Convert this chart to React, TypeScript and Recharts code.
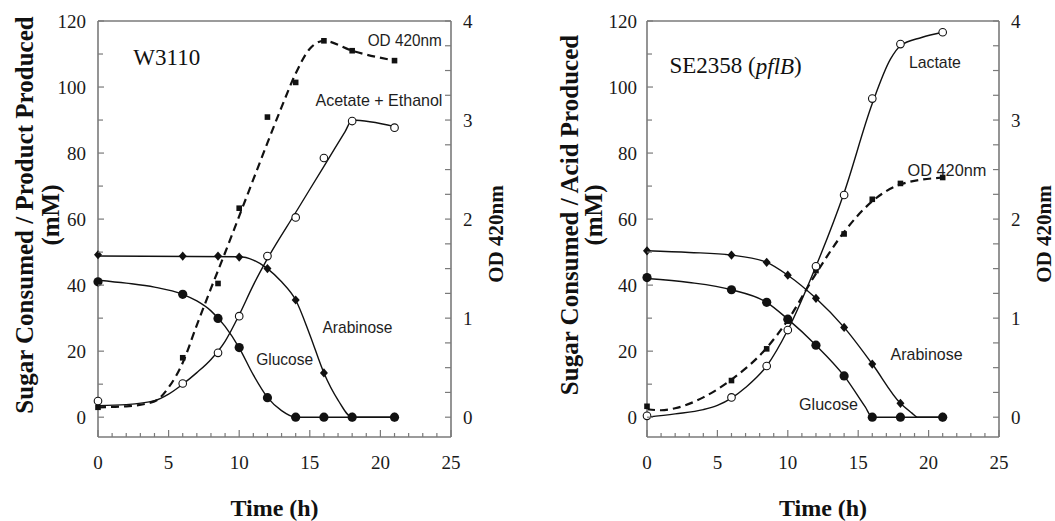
import React from 'react';
import { LineChart, Line, XAxis, YAxis, ReferenceLine, ReferenceDot } from 'recharts';

const SERIF = '"Liberation Serif", "Times New Roman", Times, serif';
const SANS = '"Liberation Sans", Arial, Helvetica, sans-serif';
const INK = '#111';
const FRAME = '#7a7a7a';

// axis ticks
const timeTicks = [0, 1, 2, 3, 4, 5, 6, 7, 8, 9, 10, 11, 12, 13, 14, 15, 16, 17, 18, 19, 20, 21, 22, 23, 24, 25];
const concTicks = [0, 10, 20, 30, 40, 50, 60, 70, 80, 90, 100, 110, 120];
const odTicks = [0, 0.25, 0.5, 0.75, 1, 1.25, 1.5, 1.75, 2, 2.25, 2.5, 2.75, 3, 3.25, 3.5, 3.75, 4];

// sampling times (h), same for both strains
const sampleTimes = [0, 6, 8.5, 10, 12, 14, 16, 18, 21];

// W3110 - measured points (mM, OD on right axis)
const w3110Glucose = [41, 37.2, 29.9, 21.1, 5.9, 0, 0, 0, 0];
const w3110Arabinose = [49.2, 48.8, 48.8, 48.5, 45, 35.5, 13.4, 0, 0];
const w3110AcEtOH = [4.9, 10.2, 19.5, 30.6, 48.8, 60.5, 78.5, 89.7, 87.7];
const w3110Od = [0.1, 0.6, 1.35, 2.11, 3.03, 3.38, 3.8, 3.7, 3.6];

// W3110 - fitted curves as drawn in the figure
const w3110GlucoseFitT = [0, 2, 4, 6, 7, 8, 9, 10, 11, 12, 13, 14, 21];
const w3110GlucoseFit = [41.5, 40.6, 39.4, 37.2, 35.2, 32.2, 27.5, 21, 12.8, 6, 2, 0, 0];
const w3110ArabinoseFitT = [0, 10, 11, 12, 13, 14, 15, 16, 17, 18, 21];
const w3110ArabinoseFit = [48.8, 48.6, 47.6, 45, 41, 35.5, 25, 13.4, 5.2, 0, 0];
const w3110AcEtOHFitT = [0, 2, 4, 5, 6, 7, 8, 9, 10, 11, 12, 14, 16, 17.5, 18, 21];
const w3110AcEtOHFit = [3.5, 3.8, 5, 7, 10, 13.5, 17.5, 23, 31, 40, 48, 62, 76, 86.5, 90, 88];
const w3110OdFitT = [0, 2, 4, 5, 6, 7, 8, 9, 10, 11, 12, 13, 14, 15, 16, 18, 21];
const w3110OdFit = [0.1, 0.11, 0.16, 0.3, 0.55, 0.93, 1.3, 1.66, 2.03, 2.4, 2.77, 3.13, 3.47, 3.72, 3.8, 3.7, 3.6];

// SE2358 (pflB) - measured points
const se2358Glucose = [42.3, 38.6, 34.8, 29.7, 21.8, 12.5, 0, 0, 0];
const se2358Arabinose = [50.4, 49.1, 46.9, 43, 36, 27.2, 16.1, 4.2, 0];
const se2358Lactate = [0.4, 6, 15.5, 26.4, 45.7, 67.3, 96.5, 113, 116.6];
const se2358Od = [0.11, 0.37, 0.69, 0.97, 1.48, 1.85, 2.2, 2.36, 2.42];

// SE2358 - fitted curves
const se2358GlucoseFitT = [0, 3, 6, 8.5, 10, 12, 14, 15.5, 16, 21];
const se2358GlucoseFit = [42, 40.8, 38.6, 34.8, 29.7, 21.8, 12.5, 3.1, 0, 0];
const se2358ArabinoseFitT = [0, 3, 6, 8.5, 10, 12, 14, 16, 18, 18.8, 19.2, 21];
const se2358ArabinoseFit = [50.4, 49.9, 49.1, 46.9, 43, 36, 27.2, 16.1, 4.2, 1.3, 0, 0];
const se2358LactateFitT = [0, 2, 4, 5, 6, 7, 8.5, 10, 12, 14, 16, 17.3, 18, 19.5, 21];
const se2358LactateFit = [0, 1, 2.3, 3.6, 5.8, 9, 15.5, 26.4, 45.7, 68, 95, 108.5, 112.5, 115, 116.6];
const se2358OdFitT = [0, 1, 2, 4, 6, 8.5, 10, 12, 14, 16, 18, 21];
const se2358OdFit = [0.08, 0.07, 0.09, 0.2, 0.38, 0.7, 0.98, 1.45, 1.87, 2.18, 2.35, 2.42];

type Pt = { t: number; v: number };
const zip = (ts: number[], vs: number[]): Pt[] => ts.map((t, i) => ({ t, v: vs[i] }));

type Curve = { id: string; data: Pt[]; axis: 'c' | 'od'; dashed?: boolean };
type Marker = { id: string; data: Pt[]; axis: 'c' | 'od'; shape: 'disc' | 'ring' | 'diamond' | 'square' };
type Note = { id: string; x: number; y: number; text: string; len?: number; title?: boolean; italic?: string };

const dotRenderer = (shape: Marker['shape']) => (p: any) => {
  const { cx, cy, index } = p;
  const key = `d-${index}`;
  if (cx == null || cy == null) return <g key={key} />;
  if (shape === 'disc') return <circle key={key} cx={cx} cy={cy} r={4.6} fill={INK} />;
  if (shape === 'ring')
    return <circle key={key} cx={cx} cy={cy} r={3.8} fill="#fff" stroke={INK} strokeWidth={1.1} />;
  if (shape === 'diamond')
    return (
      <polygon
        key={key}
        points={`${cx},${cy - 4.6} ${cx + 4},${cy} ${cx},${cy + 4.6} ${cx - 4},${cy}`}
        fill={INK}
      />
    );
  return <rect key={key} x={cx - 2.8} y={cy - 2.8} width={5.6} height={5.6} fill={INK} />;
};

function TimeTick(props: any) {
  const { x, y, payload } = props;
  const major = payload.value % 5 === 0;
  return (
    <g>
      <line x1={x} x2={x} y1={y} y2={y - (major ? 7 : 4)} stroke={FRAME} strokeWidth={1.2} />
      {major && (
        <text x={x} y={y + 25} textAnchor="middle" dominantBaseline="central" fontFamily={SERIF} fontSize={19} fill="#1a1a1a">
          {payload.value}
        </text>
      )}
    </g>
  );
}

function ConcTick(props: any) {
  const { x, y, payload, gap } = props;
  const major = payload.value % 20 === 0;
  return (
    <g>
      <line x1={x} x2={x + (major ? 6 : 5)} y1={y} y2={y} stroke={FRAME} strokeWidth={1.2} />
      {major && (
        <text x={x - gap} y={y} textAnchor="end" dominantBaseline="central" fontFamily={SERIF} fontSize={19} fill="#1a1a1a">
          {payload.value}
        </text>
      )}
    </g>
  );
}

function OdTick(props: any) {
  const { x, y, payload } = props;
  const major = Number.isInteger(payload.value);
  return (
    <g>
      <line x1={x} x2={x - 6} y1={y} y2={y} stroke={FRAME} strokeWidth={1.2} />
      {major && (
        <text x={x + 12} y={y} textAnchor="start" dominantBaseline="central" fontFamily={SERIF} fontSize={19} fill="#1a1a1a">
          {payload.value}
        </text>
      )}
    </g>
  );
}

function ConcTitle(props: any) {
  const { viewBox, lines, offsets } = props;
  if (!viewBox) return null;
  const edge = viewBox.x + viewBox.width;
  const cy = viewBox.y + viewBox.height / 2 - 14;
  return (
    <g>
      {lines.map((s: string, i: number) => {
        const cx = edge - offsets[i];
        return (
          <text
            key={s}
            x={cx}
            y={cy}
            transform={`rotate(-90 ${cx} ${cy})`}
            textAnchor="middle"
            dominantBaseline="central"
            fontFamily={SERIF}
            fontWeight="bold"
            fontSize={25}
            fill={INK}
          >
            {s}
          </text>
        );
      })}
    </g>
  );
}

function OdTitle(props: any) {
  const { viewBox } = props;
  if (!viewBox) return null;
  const cx = viewBox.x + 45;
  const cy = viewBox.y + viewBox.height / 2 + 5;
  return (
    <text
      x={cx}
      y={cy}
      transform={`rotate(-90 ${cx} ${cy})`}
      textAnchor="middle"
      dominantBaseline="central"
      fontFamily={SERIF}
      fontWeight="bold"
      fontSize={21}
      fill={INK}
    >
      OD 420nm
    </text>
  );
}

function TimeTitle(props: any) {
  const { viewBox } = props;
  if (!viewBox) return null;
  return (
    <text
      x={viewBox.x + viewBox.width / 2}
      y={viewBox.y + 71}
      textAnchor="middle"
      dominantBaseline="central"
      fontFamily={SERIF}
      fontWeight="bold"
      fontSize={24}
      fill={INK}
    >
      Time (h)
    </text>
  );
}

const noteShape = (n: Note) => (p: any) => {
  if (n.title) {
    return (
      <text x={p.cx} y={p.cy} dominantBaseline="central" fontFamily={SERIF} fontSize={23} fill={INK}>
        {n.text}
        {n.italic && <tspan fontStyle="italic">{n.italic}</tspan>}
        {n.italic && ')'}
      </text>
    );
  }
  return (
    <text
      x={p.cx}
      y={p.cy}
      dominantBaseline="central"
      fontFamily={SANS}
      fontSize={17}
      fill="#1e1e1e"
      textLength={n.len}
      lengthAdjust="spacingAndGlyphs"
    >
      {n.text}
    </text>
  );
};

const w3110Curves: Curve[] = [
  { id: 'glc', data: zip(w3110GlucoseFitT, w3110GlucoseFit), axis: 'c' },
  { id: 'ara', data: zip(w3110ArabinoseFitT, w3110ArabinoseFit), axis: 'c' },
  { id: 'ace', data: zip(w3110AcEtOHFitT, w3110AcEtOHFit), axis: 'c' },
  { id: 'od', data: zip(w3110OdFitT, w3110OdFit), axis: 'od', dashed: true },
];
const w3110Markers: Marker[] = [
  { id: 'ara', data: zip(sampleTimes, w3110Arabinose), axis: 'c', shape: 'diamond' },
  { id: 'glc', data: zip(sampleTimes, w3110Glucose), axis: 'c', shape: 'disc' },
  { id: 'od', data: zip(sampleTimes, w3110Od), axis: 'od', shape: 'square' },
  { id: 'ace', data: zip(sampleTimes, w3110AcEtOH), axis: 'c', shape: 'ring' },
];
const w3110Notes: Note[] = [
  { id: 'name', x: 2.5, y: 109, text: 'W3110', title: true },
  { id: 'od', x: 19.1, y: 114.2, text: 'OD 420nm', len: 74 },
  { id: 'ace', x: 15.4, y: 96, text: 'Acetate + Ethanol', len: 127 },
  { id: 'ara', x: 15.9, y: 27.3, text: 'Arabinose', len: 70 },
  { id: 'glc', x: 11.2, y: 17.6, text: 'Glucose', len: 57 },
];

const se2358Curves: Curve[] = [
  { id: 'glc', data: zip(se2358GlucoseFitT, se2358GlucoseFit), axis: 'c' },
  { id: 'ara', data: zip(se2358ArabinoseFitT, se2358ArabinoseFit), axis: 'c' },
  { id: 'lac', data: zip(se2358LactateFitT, se2358LactateFit), axis: 'c' },
  { id: 'od', data: zip(se2358OdFitT, se2358OdFit), axis: 'od', dashed: true },
];
const se2358Markers: Marker[] = [
  { id: 'ara', data: zip(sampleTimes, se2358Arabinose), axis: 'c', shape: 'diamond' },
  { id: 'glc', data: zip(sampleTimes, se2358Glucose), axis: 'c', shape: 'disc' },
  { id: 'od', data: zip(sampleTimes, se2358Od), axis: 'od', shape: 'square' },
  { id: 'lac', data: zip(sampleTimes, se2358Lactate), axis: 'c', shape: 'ring' },
];
const se2358Notes: Note[] = [
  { id: 'name', x: 1.6, y: 106.4, text: 'SE2358 (', italic: 'pflB', title: true },
  { id: 'lac', x: 18.6, y: 107.3, text: 'Lactate', len: 52 },
  { id: 'od', x: 18.5, y: 74.8, text: 'OD 420nm', len: 79 },
  { id: 'ara', x: 17.3, y: 19.1, text: 'Arabinose', len: 72 },
  { id: 'glc', x: 10.8, y: 3.9, text: 'Glucose', len: 59 },
];

interface PanelProps {
  left: number;
  width: number;
  leftAxisWidth: number;
  rightAxisWidth: number;
  titleLines: string[];
  titleOffsets: number[];
  tickGap: number;
  curves: Curve[];
  markers: Marker[];
  notes: Note[];
}

function Panel(p: PanelProps) {
  return (
    <div style={{ position: 'absolute', left: p.left, top: 0 }}>
      <LineChart width={p.width} height={521} margin={{ top: 21, right: 0, bottom: 0, left: 0 }}>
        <XAxis
          dataKey="t"
          type="number"
          domain={[0, 25]}
          ticks={timeTicks}
          interval={0}
          tickSize={0}
          tickMargin={0}
          tickLine={false}
          axisLine={{ stroke: FRAME, strokeWidth: 1.6 }}
          height={84}
          tick={(t: any) => <TimeTick {...t} />}
          label={<TimeTitle />}
        />
        <YAxis
          yAxisId="c"
          orientation="left"
          type="number"
          domain={[-6, 120]}
          ticks={concTicks}
          interval={0}
          width={p.leftAxisWidth}
          tickSize={0}
          tickMargin={0}
          tickLine={false}
          axisLine={{ stroke: FRAME, strokeWidth: 1.6 }}
          tick={(t: any) => <ConcTick {...t} gap={p.tickGap} />}
          label={<ConcTitle lines={p.titleLines} offsets={p.titleOffsets} />}
        />
        <YAxis
          yAxisId="od"
          orientation="right"
          type="number"
          domain={[-0.2, 4]}
          ticks={odTicks}
          interval={0}
          width={p.rightAxisWidth}
          tickSize={0}
          tickMargin={0}
          tickLine={false}
          axisLine={{ stroke: FRAME, strokeWidth: 1.6 }}
          tick={(t: any) => <OdTick {...t} />}
          label={<OdTitle />}
        />
        <ReferenceLine yAxisId="c" y={120} stroke={FRAME} strokeWidth={1.6} />
        {p.curves.map((c) => (
          <Line
            key={`fit-${c.id}`}
            yAxisId={c.axis}
            data={c.data}
            dataKey="v"
            type="monotone"
            stroke={INK}
            strokeWidth={c.dashed ? 2.2 : 1.4}
            strokeDasharray={c.dashed ? '8 5' : undefined}
            dot={false}
            activeDot={false}
            isAnimationActive={false}
          />
        ))}
        {p.markers.map((m) => (
          <Line
            key={`pts-${m.id}`}
            yAxisId={m.axis}
            data={m.data}
            dataKey="v"
            stroke="none"
            dot={dotRenderer(m.shape)}
            activeDot={false}
            isAnimationActive={false}
          />
        ))}
        {p.notes.map((n) => (
          <ReferenceDot
            key={`note-${n.id}`}
            yAxisId="c"
            x={n.x}
            y={n.y}
            r={0}
            ifOverflow="visible"
            shape={noteShape(n)}
          />
        ))}
      </LineChart>
    </div>
  );
}

export default function App() {
  return (
    <div style={{ position: 'absolute', left: 0, top: 0, width: 1055, height: 521, background: '#fff' }}>
      <Panel
        left={0}
        width={527}
        leftAxisWidth={98}
        rightAxisWidth={76}
        titleLines={['Sugar Consumed / Product Produced', '(mM)']}
        titleOffsets={[74, 48]}
        tickGap={12}
        curves={w3110Curves}
        markers={w3110Markers}
        notes={w3110Notes}
      />
      <Panel
        left={527}
        width={528}
        leftAxisWidth={120}
        rightAxisWidth={56}
        titleLines={['Sugar Consumed / Acid Produced', '(mM)']}
        titleOffsets={[78, 54]}
        tickGap={10}
        curves={se2358Curves}
        markers={se2358Markers}
        notes={se2358Notes}
      />
    </div>
  );
}
